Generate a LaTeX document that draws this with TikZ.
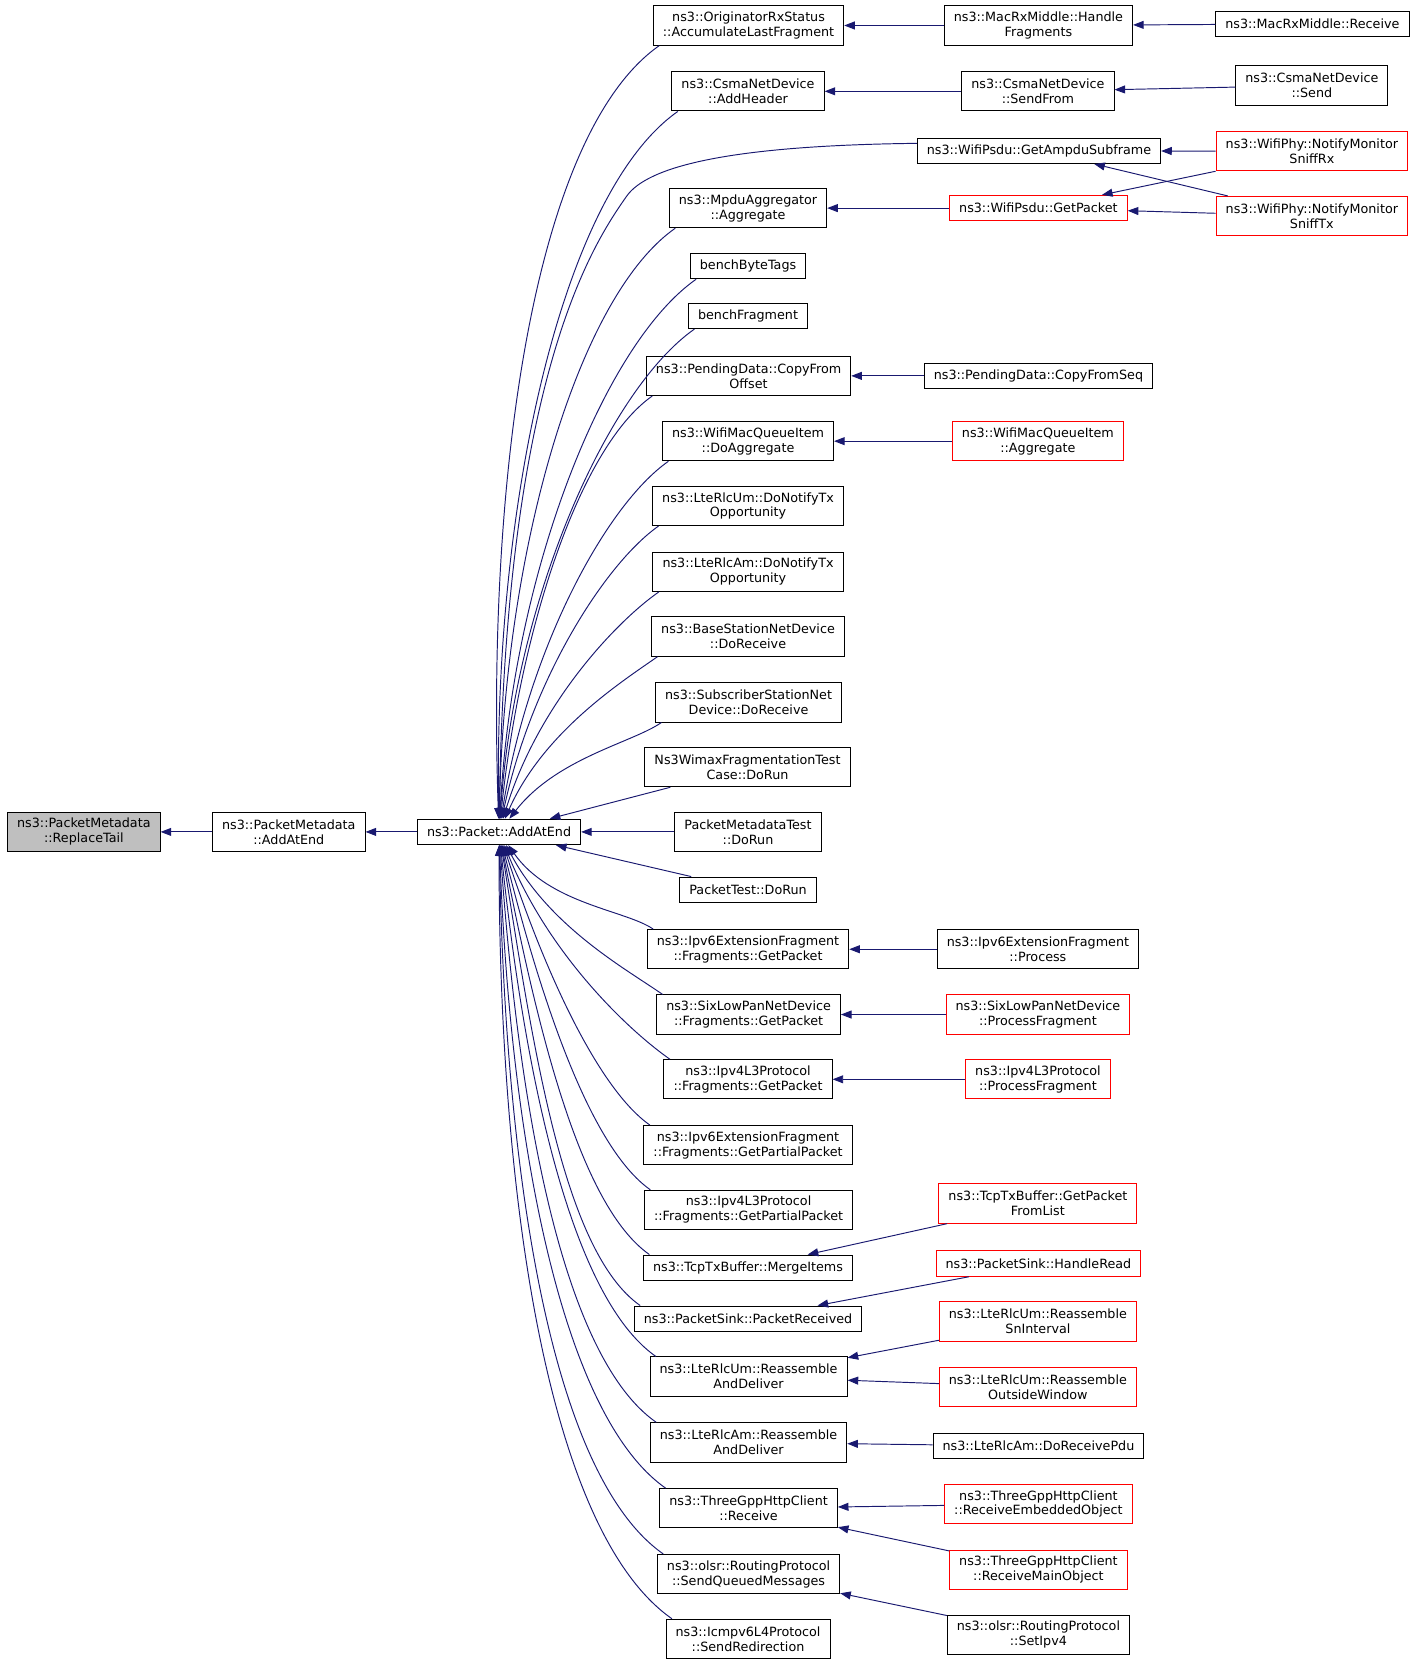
\documentclass[tikz,border=0pt]{standalone}
\usepackage{fontspec}
\setmainfont{DejaVu Sans}
\usetikzlibrary{arrows.meta}
\definecolor{callblue}{HTML}{191970}
\definecolor{curgray}{HTML}{BFBFBF}
\tikzset{
  fn/.style={draw=black, line width=0.9pt, fill=white, align=center, inner xsep=9pt, inner ysep=3pt,
    minimum height=24pt, font=\fontsize{12}{14}\selectfont},
  tall/.style={minimum height=37pt},
  fnred/.style={fn, draw=red},
  fncur/.style={fn, fill=curgray},
  calls/.style={draw=callblue, line width=0.9pt, {Triangle[length=10pt,width=7.5pt]}-},
  up/.style={out looseness=1.1, in looseness=0.5, in=215},
  down/.style={out looseness=1.1, in looseness=0.5, in=145},
}
\begin{document}
\begin{tikzpicture}[x=1pt,y=1pt]
      \useasboundingbox (0,0) rectangle (1336,-1570);
      \node[fncur,tall] (rt) at (79,-783.5) {ns3::PacketMetadata\\::ReplaceTail};
      \node[fn,tall] (aae) at (272,-783.5) {ns3::PacketMetadata\\::AddAtEnd};
      \node[fn] (pae) at (470,-783.5) {ns3::Packet::AddAtEnd};

      \node[fn,tall] (ors) at (705,-24) {ns3::OriginatorRxStatus\\::AccumulateLastFragment};
      \node[fn,tall] (cah) at (704.5,-86) {ns3::CsmaNetDevice\\::AddHeader};
      \node[fn,tall] (mpa) at (704.5,-196) {ns3::MpduAggregator\\::Aggregate};
      \node[fn] (bbt) at (704.5,-250.5) {benchByteTags};
      \node[fn] (bfr) at (704.5,-297.5) {benchFragment};
      \node[fn,tall] (pdo) at (705,-354) {ns3::PendingData::CopyFrom\\Offset};
      \node[fn,tall] (wda) at (704.5,-415.5) {ns3::WifiMacQueueItem\\::DoAggregate};
      \node[fn,tall] (umn) at (704.5,-476.5) {ns3::LteRlcUm::DoNotifyTx\\Opportunity};
      \node[fn,tall] (amn) at (704.5,-538.5) {ns3::LteRlcAm::DoNotifyTx\\Opportunity};
      \node[fn,tall] (bsr) at (704.5,-599.5) {ns3::BaseStationNetDevice\\::DoReceive};
      \node[fn,tall] (ssr) at (705,-661.5) {ns3::SubscriberStationNet\\Device::DoReceive};
      \node[fn,tall] (wft) at (704,-722.5) {Ns3WimaxFragmentationTest\\Case::DoRun};
      \node[fn,tall] (pmt) at (704.5,-783.5) {PacketMetadataTest\\::DoRun};
      \node[fn] (ptr) at (704.5,-838) {PacketTest::DoRun};
      \node[fn,tall] (i6g) at (704.5,-894) {ns3::Ipv6ExtensionFragment\\::Fragments::GetPacket};
      \node[fn,tall] (slg) at (705,-955.5) {ns3::SixLowPanNetDevice\\::Fragments::GetPacket};
      \node[fn,tall] (i4g) at (704.5,-1016.5) {ns3::Ipv4L3Protocol\\::Fragments::GetPacket};
      \node[fn,tall] (i6p) at (704.5,-1078.5) {ns3::Ipv6ExtensionFragment\\::Fragments::GetPartialPacket};
      \node[fn,tall] (i4p) at (705,-1139.5) {ns3::Ipv4L3Protocol\\::Fragments::GetPartialPacket};
      \node[fn] (tmi) at (704.5,-1194) {ns3::TcpTxBuffer::MergeItems};
      \node[fn] (spr) at (704.5,-1242) {ns3::PacketSink::PacketReceived};
      \node[fn,tall] (umr) at (705,-1296.5) {ns3::LteRlcUm::Reassemble\\AndDeliver};
      \node[fn,tall] (amr) at (705,-1358.5) {ns3::LteRlcAm::Reassemble\\AndDeliver};
      \node[fn,tall] (hcr) at (705,-1420.5) {ns3::ThreeGppHttpClient\\::Receive};
      \node[fn,tall] (sqm) at (705,-1482.5) {ns3::olsr::RoutingProtocol\\::SendQueuedMessages};
      \node[fn,tall] (isr) at (704.5,-1543.5) {ns3::Icmpv6L4Protocol\\::SendRedirection};

      \node[fn,tall] (mhf) at (978,-24) {ns3::MacRxMiddle::Handle\\Fragments};
      \node[fn,tall] (csf) at (977.5,-86) {ns3::CsmaNetDevice\\::SendFrom};
      \node[fn] (gas) at (978.5,-142) {ns3::WifiPsdu::GetAmpduSubframe};
      \node[fnred] (wgp) at (978,-196) {ns3::WifiPsdu::GetPacket};
      \node[fn] (pds) at (978,-354) {ns3::PendingData::CopyFromSeq};
      \node[fnred,tall] (wag) at (977.5,-415.5) {ns3::WifiMacQueueItem\\::Aggregate};
      \node[fn,tall] (i6x) at (977.5,-894) {ns3::Ipv6ExtensionFragment\\::Process};
      \node[fnred,tall] (slf) at (977.5,-955.5) {ns3::SixLowPanNetDevice\\::ProcessFragment};
      \node[fnred,tall] (i4f) at (977.5,-1016.5) {ns3::Ipv4L3Protocol\\::ProcessFragment};
      \node[fnred,tall] (tgl) at (977.5,-1133.5) {ns3::TcpTxBuffer::GetPacket\\FromList};
      \node[fnred] (shr) at (978,-1190) {ns3::PacketSink::HandleRead};
      \node[fnred,tall] (usi) at (977.5,-1244.5) {ns3::LteRlcUm::Reassemble\\SnInterval};
      \node[fnred,tall] (uow) at (977.5,-1306.5) {ns3::LteRlcUm::Reassemble\\OutsideWindow};
      \node[fn] (adr) at (978,-1362) {ns3::LteRlcAm::DoReceivePdu};
      \node[fnred,tall] (heo) at (978,-1416.5) {ns3::ThreeGppHttpClient\\::ReceiveEmbeddedObject};
      \node[fnred,tall] (hmo) at (978,-1478.5) {ns3::ThreeGppHttpClient\\::ReceiveMainObject};
      \node[fn,tall] (osi) at (978,-1539.5) {ns3::olsr::RoutingProtocol\\::SetIpv4};

      \node[fn] (mrr) at (1236,-22.5) {ns3::MacRxMiddle::Receive};
      \node[fn,tall] (csd) at (1235.5,-80.5) {ns3::CsmaNetDevice\\::Send};
      \node[fnred,tall] (nrx) at (1235.5,-142.5) {ns3::WifiPhy::NotifyMonitor\\SniffRx};
      \node[fnred,tall] (ntx) at (1235.5,-203.5) {ns3::WifiPhy::NotifyMonitor\\SniffTx};

      \draw[calls] (rt) -- (aae);
      \draw[calls] (aae) -- (pae);

      \draw[calls] (pae) to[up, out=92] ([xshift=6pt]ors.south west);
      \draw[calls] (pae) to[up, out=91] ([xshift=6pt]cah.south west);
      \draw[calls] (pae) .. controls (476,-350) and (560,-228) .. (590,-185)
                         .. controls (610,-156) and (690,-137) .. ([yshift=7pt]gas.west);
      \draw[calls] (pae) to[up, out=89] ([xshift=6pt]mpa.south west);
      \draw[calls] (pae) to[up, out=87] ([xshift=6pt]bbt.south west);
      \draw[calls] (pae) to[up, out=86] ([xshift=6pt]bfr.south west);
      \draw[calls] (pae) to[up, out=84] ([xshift=6pt]pdo.south west);
      \draw[calls] (pae) to[up, out=81] ([xshift=6pt]wda.south west);
      \draw[calls] (pae) to[up, out=78] ([xshift=6pt]umn.south west);
      \draw[calls] (pae) to[up, out=73] ([xshift=6pt]amn.south west);
      \draw[calls] (pae) to[up, out=66] ([xshift=6pt]bsr.south west);
      \draw[calls] (pae) to[up, out=52] ([xshift=6pt]ssr.south west);
      \draw[calls] (pae) -- (wft);
      \draw[calls] (pae) -- (pmt);
      \draw[calls] (pae) -- (ptr);
      \draw[calls] (pae) to[down, out=305] ([xshift=6pt]i6g.north west);
      \draw[calls] (pae) to[down, out=298] ([xshift=6pt]slg.north west);
      \draw[calls] (pae) to[down, out=292] ([xshift=6pt]i4g.north west);
      \draw[calls] (pae) to[down, out=288] ([xshift=6pt]i6p.north west);
      \draw[calls] (pae) to[down, out=284] ([xshift=6pt]i4p.north west);
      \draw[calls] (pae) to[down, out=281] ([xshift=6pt]tmi.north west);
      \draw[calls] (pae) to[down, out=279] ([xshift=6pt]spr.north west);
      \draw[calls] (pae) to[down, out=276] ([xshift=6pt]umr.north west);
      \draw[calls] (pae) to[down, out=274] ([xshift=6pt]amr.north west);
      \draw[calls] (pae) to[down, out=272] ([xshift=6pt]hcr.north west);
      \draw[calls] (pae) to[down, out=271] ([xshift=6pt]sqm.north west);
      \draw[calls] (pae) to[down, out=270] ([xshift=6pt]isr.north west);

      \draw[calls] (ors) -- (mhf);
      \draw[calls] (mhf) -- (mrr);
      \draw[calls] (cah) -- (csf);
      \draw[calls] (csf) -- (csd);
      \draw[calls] (gas) -- (nrx);
      \draw[calls] (gas) -- (ntx);
      \draw[calls] (wgp) -- (nrx);
      \draw[calls] (wgp) -- (ntx);
      \draw[calls] (mpa) -- (wgp);
      \draw[calls] (pdo) -- (pds);
      \draw[calls] (wda) -- (wag);
      \draw[calls] (i6g) -- (i6x);
      \draw[calls] (slg) -- (slf);
      \draw[calls] (i4g) -- (i4f);
      \draw[calls] (tmi) -- (tgl);
      \draw[calls] (spr) -- (shr);
      \draw[calls] (umr) -- (usi);
      \draw[calls] (umr) -- (uow);
      \draw[calls] (amr) -- (adr);
      \draw[calls] (hcr) -- (heo);
      \draw[calls] (hcr) -- (hmo);
      \draw[calls] (sqm) -- (osi);
    \end{tikzpicture}
\end{document}
